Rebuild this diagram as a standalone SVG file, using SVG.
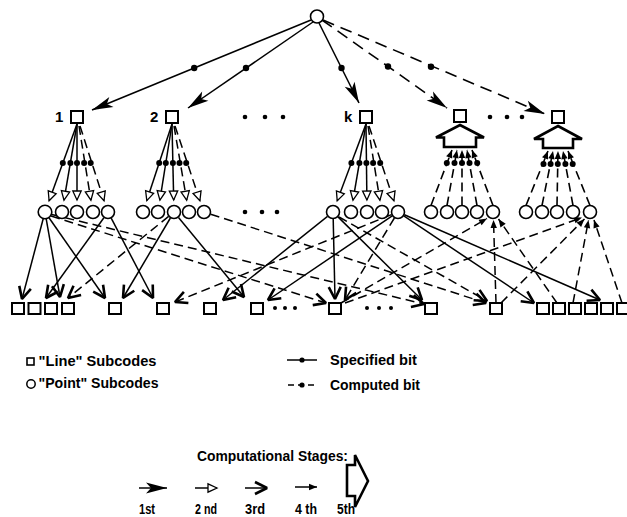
<svg xmlns="http://www.w3.org/2000/svg" width="627" height="517" viewBox="0 0 627 517">
<style>
.s{stroke:#000;stroke-width:1.5;fill:none}
.d{stroke:#000;stroke-width:1.5;fill:none;stroke-dasharray:9 5}
.dt{stroke:#000;stroke-width:1.6;fill:none;stroke-dasharray:12 7}
.df{stroke:#000;stroke-width:1.6;fill:none;stroke-dasharray:9 5}
.c{fill:#fff;stroke:#000;stroke-width:1.6}
.q{fill:#fff;stroke:#000;stroke-width:2}
.h{fill:#fff;stroke:#000;stroke-width:2.6;stroke-linejoin:miter}
.dot{fill:#000}
.m1{marker-end:url(#m1)}
.m2{marker-end:url(#m2)}
.m3{marker-end:url(#m3)}
.m4{marker-end:url(#m4)}
text{font-family:"Liberation Sans",Arial,sans-serif;font-weight:bold;fill:#000}
</style>
<defs>
<marker id="m1" markerUnits="userSpaceOnUse" viewBox="-22 -8 24 16" refX="0" refY="0" markerWidth="24" markerHeight="16" orient="auto" overflow="visible"><path d="M0,0 L-21,-5.5 L-16,0 L-21,5.5 Z" fill="#000"/></marker>
<marker id="m2" markerUnits="userSpaceOnUse" viewBox="-10 -6 12 12" refX="0" refY="0" markerWidth="12" markerHeight="12" orient="auto" overflow="visible"><path d="M0,0 L-9,-4.2 L-9,4.2 Z" fill="#fff" stroke="#000" stroke-width="1.3"/></marker>
<marker id="m3" markerUnits="userSpaceOnUse" viewBox="-16 -9 18 18" refX="0" refY="0" markerWidth="18" markerHeight="18" orient="auto" overflow="visible"><path d="M-12,-6 L0,0 L-12,6" fill="none" stroke="#000" stroke-width="2.6" stroke-linejoin="miter" stroke-miterlimit="2"/></marker>
<marker id="m4" markerUnits="userSpaceOnUse" viewBox="-10 -5 12 10" refX="0" refY="0" markerWidth="12" markerHeight="10" orient="auto" overflow="visible"><path d="M0,0 L-8,-3.2 L-8,3.2 Z" fill="#000"/></marker>
</defs>

<g id="connectors">
 <line class="s m1" x1="311" y1="20" x2="92" y2="110"/>
 <line class="s m1" x1="313" y1="22" x2="188" y2="108"/>
 <line class="s m1" x1="319" y1="23" x2="359" y2="103"/>
 <line class="dt m1" x1="322" y1="20" x2="447" y2="108"/>
 <line class="dt m1" x1="323" y1="20" x2="545" y2="114"/>
 <circle class="dot" cx="194.2" cy="68" r="3.2"/>
 <circle class="dot" cx="246" cy="68" r="3.2"/>
 <circle class="dot" cx="341.5" cy="68" r="3.2"/>
 <circle class="dot" cx="388" cy="66.5" r="3.2"/>
 <circle class="dot" cx="431" cy="66.8" r="3.2"/>

 <g id="fan1">
  <line class="s m2" x1="77" y1="124" x2="49.1" y2="200.7"/>
  <line class="s m2" x1="77" y1="124" x2="64" y2="200.2"/>
  <line class="s m2" x1="77" y1="124" x2="77" y2="200"/>
  <line class="d m2" x1="79" y1="126" x2="90.9" y2="200.2"/>
  <line class="d m2" x1="80" y1="126" x2="104" y2="200.7"/>
  <circle class="dot" cx="62.8" cy="163" r="3"/><circle class="dot" cx="70.4" cy="163" r="3"/><circle class="dot" cx="77" cy="163" r="3"/><circle class="dot" cx="84.1" cy="163" r="3"/><circle class="dot" cx="90.7" cy="163" r="3"/>
 </g>
 <g id="fan2">
  <line class="s m2" x1="172" y1="124" x2="146.8" y2="200.6"/>
  <line class="s m2" x1="172" y1="124" x2="159.9" y2="200.1"/>
  <line class="s m2" x1="172" y1="124" x2="173.7" y2="200"/>
  <line class="d m2" x1="174" y1="126" x2="186.7" y2="200.2"/>
  <line class="d m2" x1="175" y1="126" x2="199.9" y2="200.7"/>
  <circle class="dot" cx="159.2" cy="163" r="3"/><circle class="dot" cx="165.8" cy="163" r="3"/><circle class="dot" cx="172.9" cy="163" r="3"/><circle class="dot" cx="179.5" cy="163" r="3"/><circle class="dot" cx="186.2" cy="163" r="3"/>
 </g>
 <g id="fank">
  <line class="s m2" x1="366" y1="124" x2="337.2" y2="200.8"/>
  <line class="s m2" x1="366" y1="124" x2="353" y2="200.2"/>
  <line class="s m2" x1="366" y1="124" x2="366.9" y2="200"/>
  <line class="d m2" x1="368" y1="126" x2="379.9" y2="200.2"/>
  <line class="d m2" x1="369" y1="126" x2="393.9" y2="200.7"/>
  <circle class="dot" cx="351.4" cy="163" r="3"/><circle class="dot" cx="359.4" cy="163" r="3"/><circle class="dot" cx="366.4" cy="163" r="3"/><circle class="dot" cx="373.1" cy="163" r="3"/><circle class="dot" cx="380.2" cy="163" r="3"/>
 </g>
 <g id="fanh1">
  <line class="df m4" x1="431" y1="205.5" x2="452" y2="150"/>
  <line class="df m4" x1="447" y1="205.5" x2="457" y2="150"/>
  <line class="df m4" x1="462" y1="205.5" x2="462" y2="150"/>
  <line class="df m4" x1="477" y1="205.5" x2="467" y2="150"/>
  <line class="df m4" x1="493" y1="205.5" x2="472" y2="150"/>
  <circle class="dot" cx="446.8" cy="163" r="3"/><circle class="dot" cx="454.5" cy="163" r="3"/><circle class="dot" cx="462" cy="163" r="3"/><circle class="dot" cx="469.5" cy="163" r="3"/><circle class="dot" cx="477.2" cy="163" r="3"/>
 </g>
 <g id="fanh2">
  <line class="df m4" x1="526" y1="205.5" x2="548" y2="151"/>
  <line class="df m4" x1="542" y1="205.5" x2="553" y2="151"/>
  <line class="df m4" x1="557" y1="205.5" x2="558" y2="151"/>
  <line class="df m4" x1="573" y1="205.5" x2="563" y2="151"/>
  <line class="df m4" x1="590" y1="205.5" x2="568" y2="151"/>
  <circle class="dot" cx="543.5" cy="164" r="3"/><circle class="dot" cx="550.6" cy="164" r="3"/><circle class="dot" cx="557.8" cy="164" r="3"/><circle class="dot" cx="565.4" cy="164" r="3"/><circle class="dot" cx="572.7" cy="164" r="3"/>
 </g>

 <g id="lower">
  <line class="s m3" x1="43.2" y1="218.8" x2="22" y2="299"/>
  <line class="s m3" x1="46.2" y1="218.9" x2="60" y2="297"/>
  <line class="s m3" x1="49" y1="217.7" x2="105" y2="298"/>
  <line class="s m3" x1="103.9" y1="217.7" x2="46" y2="298"/>
  <line class="s m3" x1="111.2" y1="218.2" x2="153" y2="298"/>
  <line class="s m3" x1="170.4" y1="218" x2="123" y2="298"/>
  <line class="s m3" x1="178.5" y1="217.4" x2="244" y2="297"/>
  <line class="s m3" x1="327.5" y1="216.4" x2="223" y2="300"/>
  <line class="s m3" x1="333.2" y1="219" x2="335" y2="299"/>
  <line class="s m3" x1="338" y1="216.9" x2="422" y2="300"/>
  <line class="s m3" x1="392.2" y1="215.9" x2="268" y2="300"/>
  <line class="s m3" x1="403.8" y1="215.9" x2="534" y2="303"/>
  <line class="s m3" x1="404.4" y1="214.8" x2="600" y2="300"/>
  <line class="d m3" x1="51.7" y1="214.5" x2="424" y2="304"/>
  <line class="d m3" x1="51.1" y1="216" x2="326" y2="303"/>
  <line class="d m3" x1="210.7" y1="214.2" x2="486" y2="303"/>
  <line class="d m3" x1="168.6" y1="216.4" x2="68" y2="298"/>
  <line class="d m3" x1="391.5" y1="214.6" x2="175" y2="302"/>
  <line class="d m3" x1="394.4" y1="218" x2="345" y2="300"/>
  <line class="d m3" x1="339" y1="217" x2="487" y2="301"/>
  <line class="d m4" x1="496" y1="303" x2="493.5" y2="220"/>
  <line class="d m4" x1="341" y1="303" x2="487" y2="218.5"/>
  <line class="d m4" x1="557" y1="303" x2="498.5" y2="219"/>
  <line class="d m4" x1="345" y1="303" x2="582" y2="217.5"/>
  <line class="d m4" x1="501" y1="303" x2="584.5" y2="219"/>
  <line class="d m4" x1="573" y1="303" x2="588.5" y2="220"/>
  <line class="d m4" x1="622" y1="303" x2="594" y2="220"/>
 </g>
</g>

<g id="root"><circle class="c" cx="317" cy="16.5" r="6.5"/></g>

<g id="node-1"><rect class="q" x="71" y="111" width="12" height="12"/><text x="55" y="122" font-size="15">1</text></g>
<g id="node-2"><rect class="q" x="166" y="111" width="12" height="12"/><text x="150" y="122" font-size="15">2</text></g>
<g id="node-k"><rect class="q" x="360" y="111" width="12" height="12"/><text x="344" y="122" font-size="15">k</text></g>
<g id="node-h1"><rect class="q" x="454" y="110" width="12" height="12"/><path class="h" d="M460,125 L484,137.5 L476,137.5 L476,147 L444,147 L444,137.5 L436,137.5 Z"/></g>
<g id="node-h2"><rect class="q" x="552" y="111" width="12" height="12"/><path class="h" d="M558,126 L582,139 L573,139 L573,148 L543,148 L543,139 L534,139 Z"/></g>

<g id="dots">
 <circle class="dot" cx="245" cy="117" r="2.3"/><circle class="dot" cx="265" cy="117" r="2.3"/><circle class="dot" cx="283" cy="117" r="2.3"/>
 <circle class="dot" cx="490" cy="117" r="2.3"/><circle class="dot" cx="507" cy="117" r="2.3"/><circle class="dot" cx="522" cy="117" r="2.3"/>
 <circle class="dot" cx="245" cy="212" r="2.3"/><circle class="dot" cx="262" cy="212" r="2.3"/><circle class="dot" cx="277" cy="212" r="2.3"/>
 <circle class="dot" cx="275" cy="308" r="2"/><circle class="dot" cx="285" cy="308" r="2"/><circle class="dot" cx="295" cy="308" r="2"/>
 <circle class="dot" cx="367" cy="308" r="2"/><circle class="dot" cx="379" cy="308" r="2"/><circle class="dot" cx="391" cy="308" r="2"/>
</g>

<g id="points-1"><circle class="c" cx="45" cy="212" r="6.8"/><circle class="c" cx="62" cy="212" r="6.5"/><circle class="c" cx="77" cy="212" r="6.5"/><circle class="c" cx="93" cy="212" r="6.5"/><circle class="c" cx="108" cy="212" r="6.5"/></g>
<g id="points-2"><circle class="c" cx="143" cy="212" r="6.5"/><circle class="c" cx="158" cy="212" r="6.5"/><circle class="c" cx="174" cy="212" r="6.5"/><circle class="c" cx="189" cy="212" r="6.5"/><circle class="c" cx="204" cy="212" r="6.5"/></g>
<g id="points-k"><circle class="c" cx="333" cy="212" r="6.5"/><circle class="c" cx="351" cy="212" r="6.5"/><circle class="c" cx="367" cy="212" r="6.5"/><circle class="c" cx="382" cy="212" r="6.5"/><circle class="c" cx="398" cy="212" r="6.5"/></g>
<g id="points-h1"><circle class="c" cx="431" cy="212" r="6.5"/><circle class="c" cx="447" cy="212" r="6.5"/><circle class="c" cx="462" cy="212" r="6.5"/><circle class="c" cx="477" cy="212" r="6.5"/><circle class="c" cx="493" cy="212" r="6.5"/></g>
<g id="points-h2"><circle class="c" cx="526" cy="212" r="6.5"/><circle class="c" cx="542" cy="212" r="6.5"/><circle class="c" cx="557" cy="212" r="6.5"/><circle class="c" cx="573" cy="212" r="6.5"/><circle class="c" cx="590" cy="212" r="6.5"/></g>

<g id="lines-bottom">
 <rect class="q" x="12" y="303" width="12" height="11"/><rect class="q" x="28.5" y="303" width="12" height="11"/><rect class="q" x="45" y="303" width="12" height="11"/><rect class="q" x="62" y="303" width="12" height="11"/>
 <rect class="q" x="109" y="303" width="12" height="11"/><rect class="q" x="157" y="303" width="12" height="11"/><rect class="q" x="204" y="303" width="12" height="11"/><rect class="q" x="251" y="303" width="12" height="11"/>
 <rect class="q" x="329" y="303" width="12" height="11"/><rect class="q" x="425" y="303" width="12" height="11"/><rect class="q" x="490" y="303" width="12" height="11"/>
 <rect class="q" x="537" y="303" width="12" height="11"/><rect class="q" x="553" y="303" width="12" height="11"/><rect class="q" x="569" y="303" width="12" height="11"/><rect class="q" x="585" y="303" width="12" height="11"/><rect class="q" x="601" y="303" width="12" height="11"/><rect class="q" x="617" y="303" width="12" height="11"/>
</g>

<g id="legend">
 <rect x="27" y="358" width="7" height="7" fill="#fff" stroke="#000" stroke-width="1.6"/>
 <text x="38.5" y="366" font-size="15" textLength="118" lengthAdjust="spacingAndGlyphs">"Line" Subcodes</text>
 <circle cx="31" cy="384" r="4.2" fill="#fff" stroke="#000" stroke-width="1.5"/>
 <text x="38.5" y="388" font-size="15" textLength="120" lengthAdjust="spacingAndGlyphs">"Point" Subcodes</text>
 <line class="s" x1="287" y1="360" x2="317" y2="360"/><circle class="dot" cx="302" cy="360" r="2.6"/>
 <text x="330" y="365" font-size="15" textLength="87" lengthAdjust="spacingAndGlyphs">Specified bit</text>
 <line class="s" x1="288" y1="385" x2="317" y2="385" stroke-dasharray="6 4"/><circle class="dot" cx="302" cy="385" r="2.6"/>
 <text x="330" y="390" font-size="15" textLength="90" lengthAdjust="spacingAndGlyphs">Computed bit</text>
 <text x="197" y="461" font-size="14" textLength="151" lengthAdjust="spacingAndGlyphs">Computational Stages:</text>
 <line class="s m1" x1="139" y1="488" x2="167" y2="488"/>
 <line class="s m2" x1="195" y1="488" x2="217" y2="488"/>
 <line class="s m3" x1="245" y1="488" x2="267" y2="488"/>
 <line class="s m4" x1="295" y1="487" x2="317" y2="487"/>
 <path class="h" d="M347,465 L355,465 L355,455 L368,481 L355,507 L355,496 L347,496 Z" stroke-width="2.2"/>
 <text x="139" y="514" font-size="15" textLength="16" lengthAdjust="spacingAndGlyphs">1st</text>
 <text x="195" y="514" font-size="15" textLength="22" lengthAdjust="spacingAndGlyphs">2 nd</text>
 <text x="245" y="514" font-size="15" textLength="20" lengthAdjust="spacingAndGlyphs">3rd</text>
 <text x="295" y="514" font-size="15" textLength="22" lengthAdjust="spacingAndGlyphs">4 th</text>
 <text x="337" y="514" font-size="15" textLength="18" lengthAdjust="spacingAndGlyphs">5th</text>
</g>
</svg>
